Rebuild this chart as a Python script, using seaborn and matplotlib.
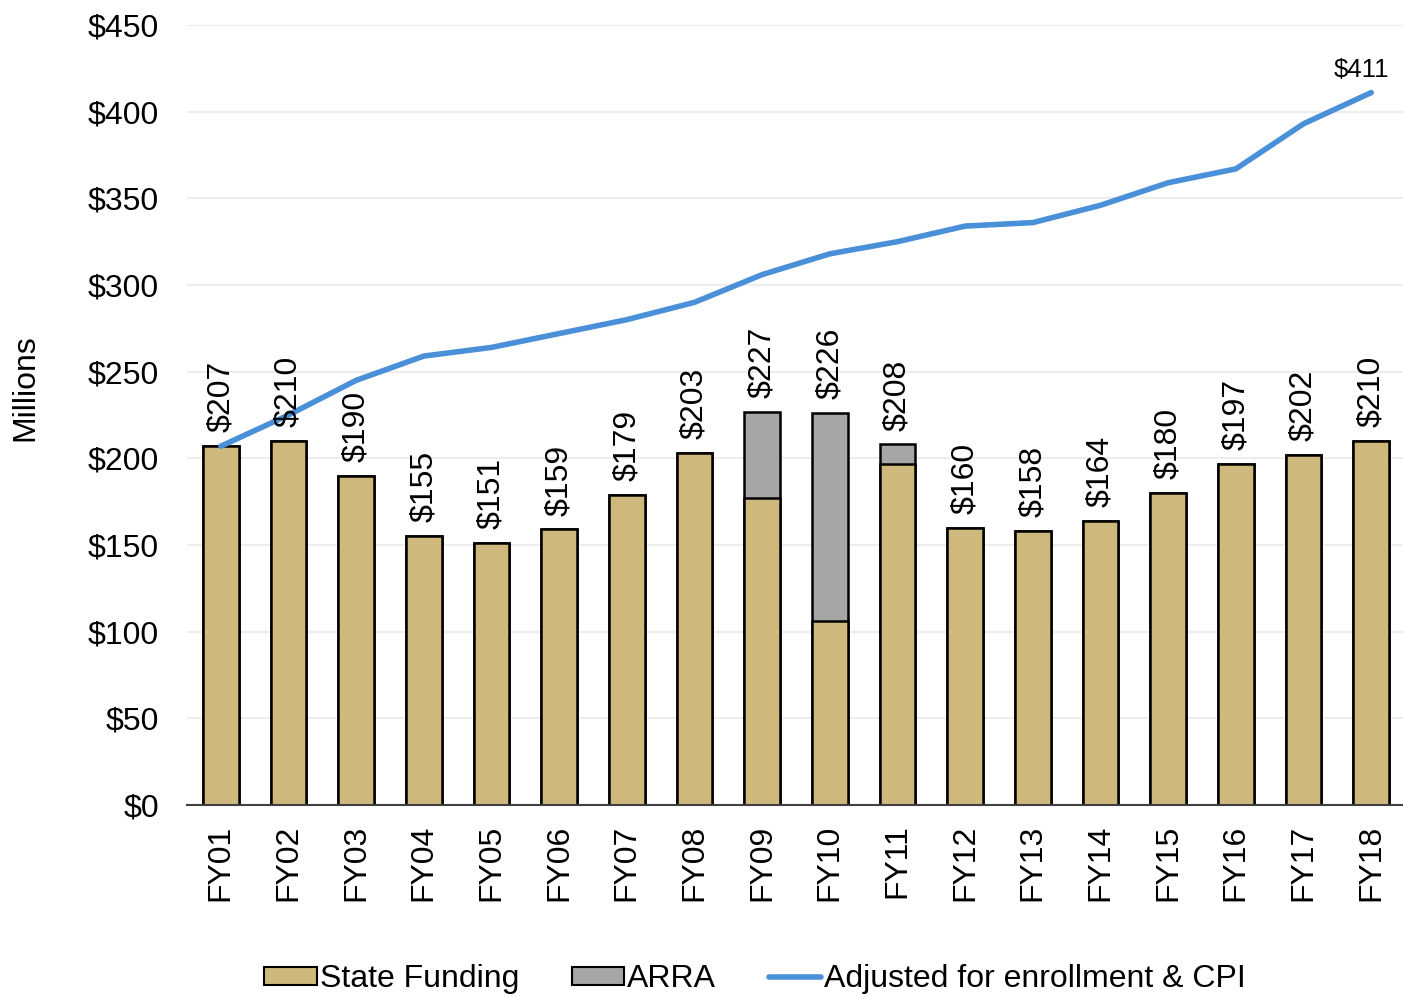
import numpy as np
import pandas as pd
import matplotlib
matplotlib.use("Agg")
import matplotlib.pyplot as plt
import seaborn as sns
from matplotlib.patches import Patch
from matplotlib.lines import Line2D

years = ["FY01", "FY02", "FY03", "FY04", "FY05", "FY06", "FY07", "FY08", "FY09",
         "FY10", "FY11", "FY12", "FY13", "FY14", "FY15", "FY16", "FY17", "FY18"]
state_funding = [207, 210, 190, 155, 151, 159, 179, 203, 177, 106, 197, 160, 158, 164, 180, 197, 202, 210]
arra = [0, 0, 0, 0, 0, 0, 0, 0, 50, 120, 11, 0, 0, 0, 0, 0, 0, 0]
totals = [207, 210, 190, 155, 151, 159, 179, 203, 227, 226, 208, 160, 158, 164, 180, 197, 202, 210]
adjusted = [207, 225, 245, 259, 264, 272, 280, 290, 306, 318, 325, 334, 336, 346, 359, 367, 393, 411]
y_ticks = [0, 50, 100, 150, 200, 250, 300, 350, 400, 450]

sns.set_theme(style="white")
plt.rcParams['font.family'] = ['Liberation Sans', 'DejaVu Sans']
plt.rcParams['text.color'] = 'black'
plt.rcParams['xtick.color'] = 'black'
plt.rcParams['ytick.color'] = 'black'

gold = "#CFB87C"
gray = "#A6A6A6"
blue = "#4A90D9"

df = pd.DataFrame({"year": years, "state": state_funding, "arra": arra, "total": totals})

fig = plt.figure(figsize=(14.03, 9.98), dpi=100)
ax = fig.add_axes([187 / 1403, 1 - 805 / 998, (1403 - 187) / 1403, (805 - 25) / 998])

sns.barplot(data=df, x="year", y="total", color=gray, saturation=1, width=0.53,
            edgecolor="black", linewidth=1.8, ax=ax, order=years)
sns.barplot(data=df, x="year", y="state", color=gold, saturation=1, width=0.53,
            edgecolor="black", linewidth=1.8, ax=ax, order=years)
sns.lineplot(x=np.arange(len(years)), y=adjusted, color=blue, linewidth=4, ax=ax,
             solid_capstyle="round", zorder=3)

for i, t in enumerate(totals):
    ax.text(i, t + 8, f"${t}", rotation=90, ha="center", va="bottom", fontsize=23,
            color="black", zorder=4)
ax.text(len(years) - 1.15, adjusted[-1] + 6, f"${adjusted[-1]}", ha="center", va="bottom",
        fontsize=18.5, color="black")

ax.set_ylim(0, 450)
ax.set_xlim(-0.5, 17.47)
ax.set_yticks(y_ticks)
ax.set_yticklabels([f"${v}" for v in y_ticks], fontsize=23)
ax.set_xticks(range(len(years)))
ax.set_xticklabels(years, rotation=90, fontsize=23)
ax.tick_params(axis="both", length=0, colors="black")
ax.tick_params(axis="y", pad=20)
ax.tick_params(axis="x", pad=14)
ax.set_xlabel("")
ax.set_ylabel("")
ax.yaxis.grid(True, color="#EDEDED", linewidth=1.5)
ax.set_axisbelow(True)
for s in ["left", "right", "top"]:
    ax.spines[s].set_visible(False)
ax.spines["bottom"].set_color("#404040")
ax.spines["bottom"].set_linewidth(1.5)

fig.text(25 / 1403, 1 - 388 / 998, "Millions", rotation=90, ha="center", va="center",
         fontsize=23, color="black")

handles = [Patch(facecolor=gold, edgecolor="black", linewidth=1.5, label="State Funding"),
           Patch(facecolor=gray, edgecolor="black", linewidth=1.5, label="ARRA"),
           Line2D([0], [0], color=blue, linewidth=4, label="Adjusted for enrollment & CPI")]
fig.legend(handles=handles, loc="center", bbox_to_anchor=(755 / 1403, 1 - 979 / 998), ncol=3,
           frameon=False, fontsize=23, handlelength=1.65, handletextpad=0.08, columnspacing=1.65,
           handleheight=0.5)

fig.savefig("out.png", dpi=100)
